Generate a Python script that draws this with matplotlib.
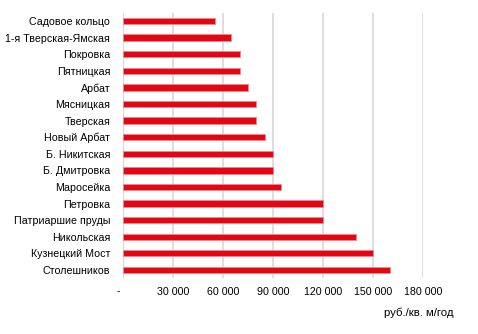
import matplotlib.pyplot as plt
from matplotlib.transforms import ScaledTranslation

plt.rcParams['font.family'] = ['Liberation Sans', 'DejaVu Sans']

streets = ['Садовое кольцо', '1-я Тверская-Ямская', 'Покровка', 'Пятницкая', 'Арбат',
           'Мясницкая', 'Тверская', 'Новый Арбат', 'Б. Никитская', 'Б. Дмитровка',
           'Маросейка', 'Петровка', 'Патриаршие пруды', 'Никольская', 'Кузнецкий Мост',
           'Столешников']
rent = [55000, 65000, 70000, 70000, 75000, 80000, 80000, 85000, 90000, 90000,
        95000, 120000, 120000, 140000, 150000, 160000]
ticks = [0, 30000, 60000, 90000, 120000, 150000, 180000]
tick_labels = ['-', '30 000', '60 000', '90 000', '120 000', '150 000', '180 000']

fig = plt.figure(figsize=(4.78, 3.34), dpi=100)
ax = fig.add_axes([0.257, 0.167, 0.628, 0.795])

y = list(range(len(streets)))
ax.barh(y, rent, height=0.38, color='#e30613', edgecolor='#e88a90', linewidth=0.6, zorder=3)
ax.set_yticks(y)
ax.set_yticklabels(streets)
ax.set_ylim(len(streets) - 0.5, -0.5)

ax.set_xlim(0, 180000)
ax.set_xticks(ticks)
ax.set_xticklabels(tick_labels)
ax.grid(axis='x', color='#d9d9d9', linewidth=1.2, zorder=0)
ax.axvline(0, color='#d0d0d0', linewidth=1.5, zorder=1)

for s in ax.spines.values():
    s.set_visible(False)
ax.tick_params(axis='both', length=0, labelsize=7.7, colors='#000000')
ax.tick_params(axis='y', pad=9)
ax.tick_params(axis='x', pad=6)

# the zero dash sits a little left of the axis line
zero = ax.get_xticklabels()[0]
zero.set_transform(zero.get_transform() + ScaledTranslation(-5 / 100, 0, fig.dpi_scale_trans))

fig.text(0.948, 0.063, 'руб./кв. м/год', ha='right', va='center', fontsize=8.2)

fig.savefig('out.png', dpi=100)
